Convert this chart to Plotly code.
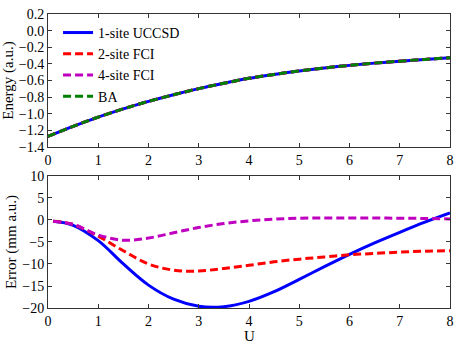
import plotly.graph_objects as go

# top panel: energy vs U (Bethe ansatz; other methods overlap)
u_energy = [0, 0.5, 1, 1.5, 2, 2.5, 3, 3.5, 4, 4.5, 5, 5.5, 6, 6.5, 7, 7.5, 8]
e_ba = [-1.273, -1.152, -1.040, -0.941, -0.851, -0.771, -0.698, -0.633, -0.574,
        -0.527, -0.485, -0.449, -0.418, -0.391, -0.367, -0.346, -0.327]

# bottom panel: error (mm a.u.)
u_err = [0.1, 0.5, 1, 1.5, 2, 2.5, 3, 3.5, 4, 4.5, 5, 5.5, 6, 6.5, 7, 7.5, 8]
err_uccsd = [-0.3, -1.2, -4.7, -10.0, -14.8, -18.0, -19.6, -19.7, -18.5, -16.3,
             -13.5, -10.6, -7.8, -5.2, -2.8, -0.5, 1.6]
err_2site = [-0.3, -1.0, -3.7, -7.0, -10.0, -11.4, -11.6, -11.0, -10.3, -9.5,
             -8.9, -8.4, -7.9, -7.6, -7.3, -7.1, -7.0]
err_4site = [-0.3, -1.0, -3.4, -4.6, -4.1, -2.9, -1.7, -0.8, -0.2, 0.2,
             0.4, 0.45, 0.45, 0.45, 0.4, 0.35, 0.25]

x_ticks = list(range(0, 9))
e_ticks = [0.2, 0.0, -0.2, -0.4, -0.6, -0.8, -1.0, -1.2, -1.4]
err_ticks = [10, 5, 0, -5, -10, -15, -20]

BLUE, RED, MAG, GREEN = "#0000ff", "#ff0000", "#bf00bf", "#008000"
DASH = "8px,4px"

fig = go.Figure()

series = [
    ("1-site UCCSD", BLUE, "solid", err_uccsd),
    ("2-site FCI", RED, DASH, err_2site),
    ("4-site FCI", MAG, DASH, err_4site),
    ("BA", GREEN, DASH, None),
]

for name, col, dash, err in series:
    fig.add_trace(go.Scatter(
        x=u_energy, y=e_ba, mode="lines", name=name,
        line=dict(color=col, width=3, dash=dash, shape="spline"),
        xaxis="x", yaxis="y",
    ))

for name, col, dash, err in series:
    if err is None:
        continue
    fig.add_trace(go.Scatter(
        x=u_err, y=err, mode="lines", showlegend=False,
        line=dict(color=col, width=3, dash=dash, shape="spline"),
        xaxis="x2", yaxis="y2",
    ))

SERIF = "'Times New Roman', 'Liberation Serif', serif"
font = dict(family=SERIF, size=15, color="black")

axis_common = dict(
    showline=True, linecolor="#333", linewidth=1, mirror="allticks",
    ticks="inside", ticklen=4, tickcolor="#333",
    showgrid=False, zeroline=False, automargin=False,
    tickfont=dict(family=SERIF, size=14, color="black"),
)

fig.update_layout(
    width=463, height=348,
    paper_bgcolor="white", plot_bgcolor="white",
    font=font,
    margin=dict(l=48, r=13, t=14, b=40),
    xaxis=dict(axis_common, domain=[0, 1], range=[0, 8], tickvals=x_ticks,
               anchor="y"),
    yaxis=dict(axis_common, domain=[0.5476, 1], range=[-1.4, 0.2],
               tickvals=e_ticks, tickformat=".1f", anchor="x",
               title=dict(text="Energy (a.u.)", standoff=2,
                          font=dict(family=SERIF, size=15))),
    xaxis2=dict(axis_common, domain=[0, 1], range=[0, 8], tickvals=x_ticks,
                anchor="y2"),
    yaxis2=dict(axis_common, domain=[0, 0.449], range=[-20, 10],
                tickvals=err_ticks, anchor="x2",
                title=dict(text="Error (mm a.u.)", standoff=2,
                           font=dict(family=SERIF, size=15))),
    legend=dict(x=0.025, y=0.99, xanchor="left", yanchor="top",
                bgcolor="rgba(0,0,0,0)",
                font=dict(family=SERIF, size=14, color="black")),
    annotations=[dict(text="U", xref="paper", yref="paper", x=0.5, y=0,
                      xanchor="center", yanchor="middle", yshift=-28,
                      showarrow=False, font=dict(family=SERIF, size=15))],
    showlegend=True,
)

# page body has an 8px default margin; drop it so the figure sits at 0,0
fig.write_html("out.html", config={"displayModeBar": False},
               post_script="document.body.style.margin='0';")
